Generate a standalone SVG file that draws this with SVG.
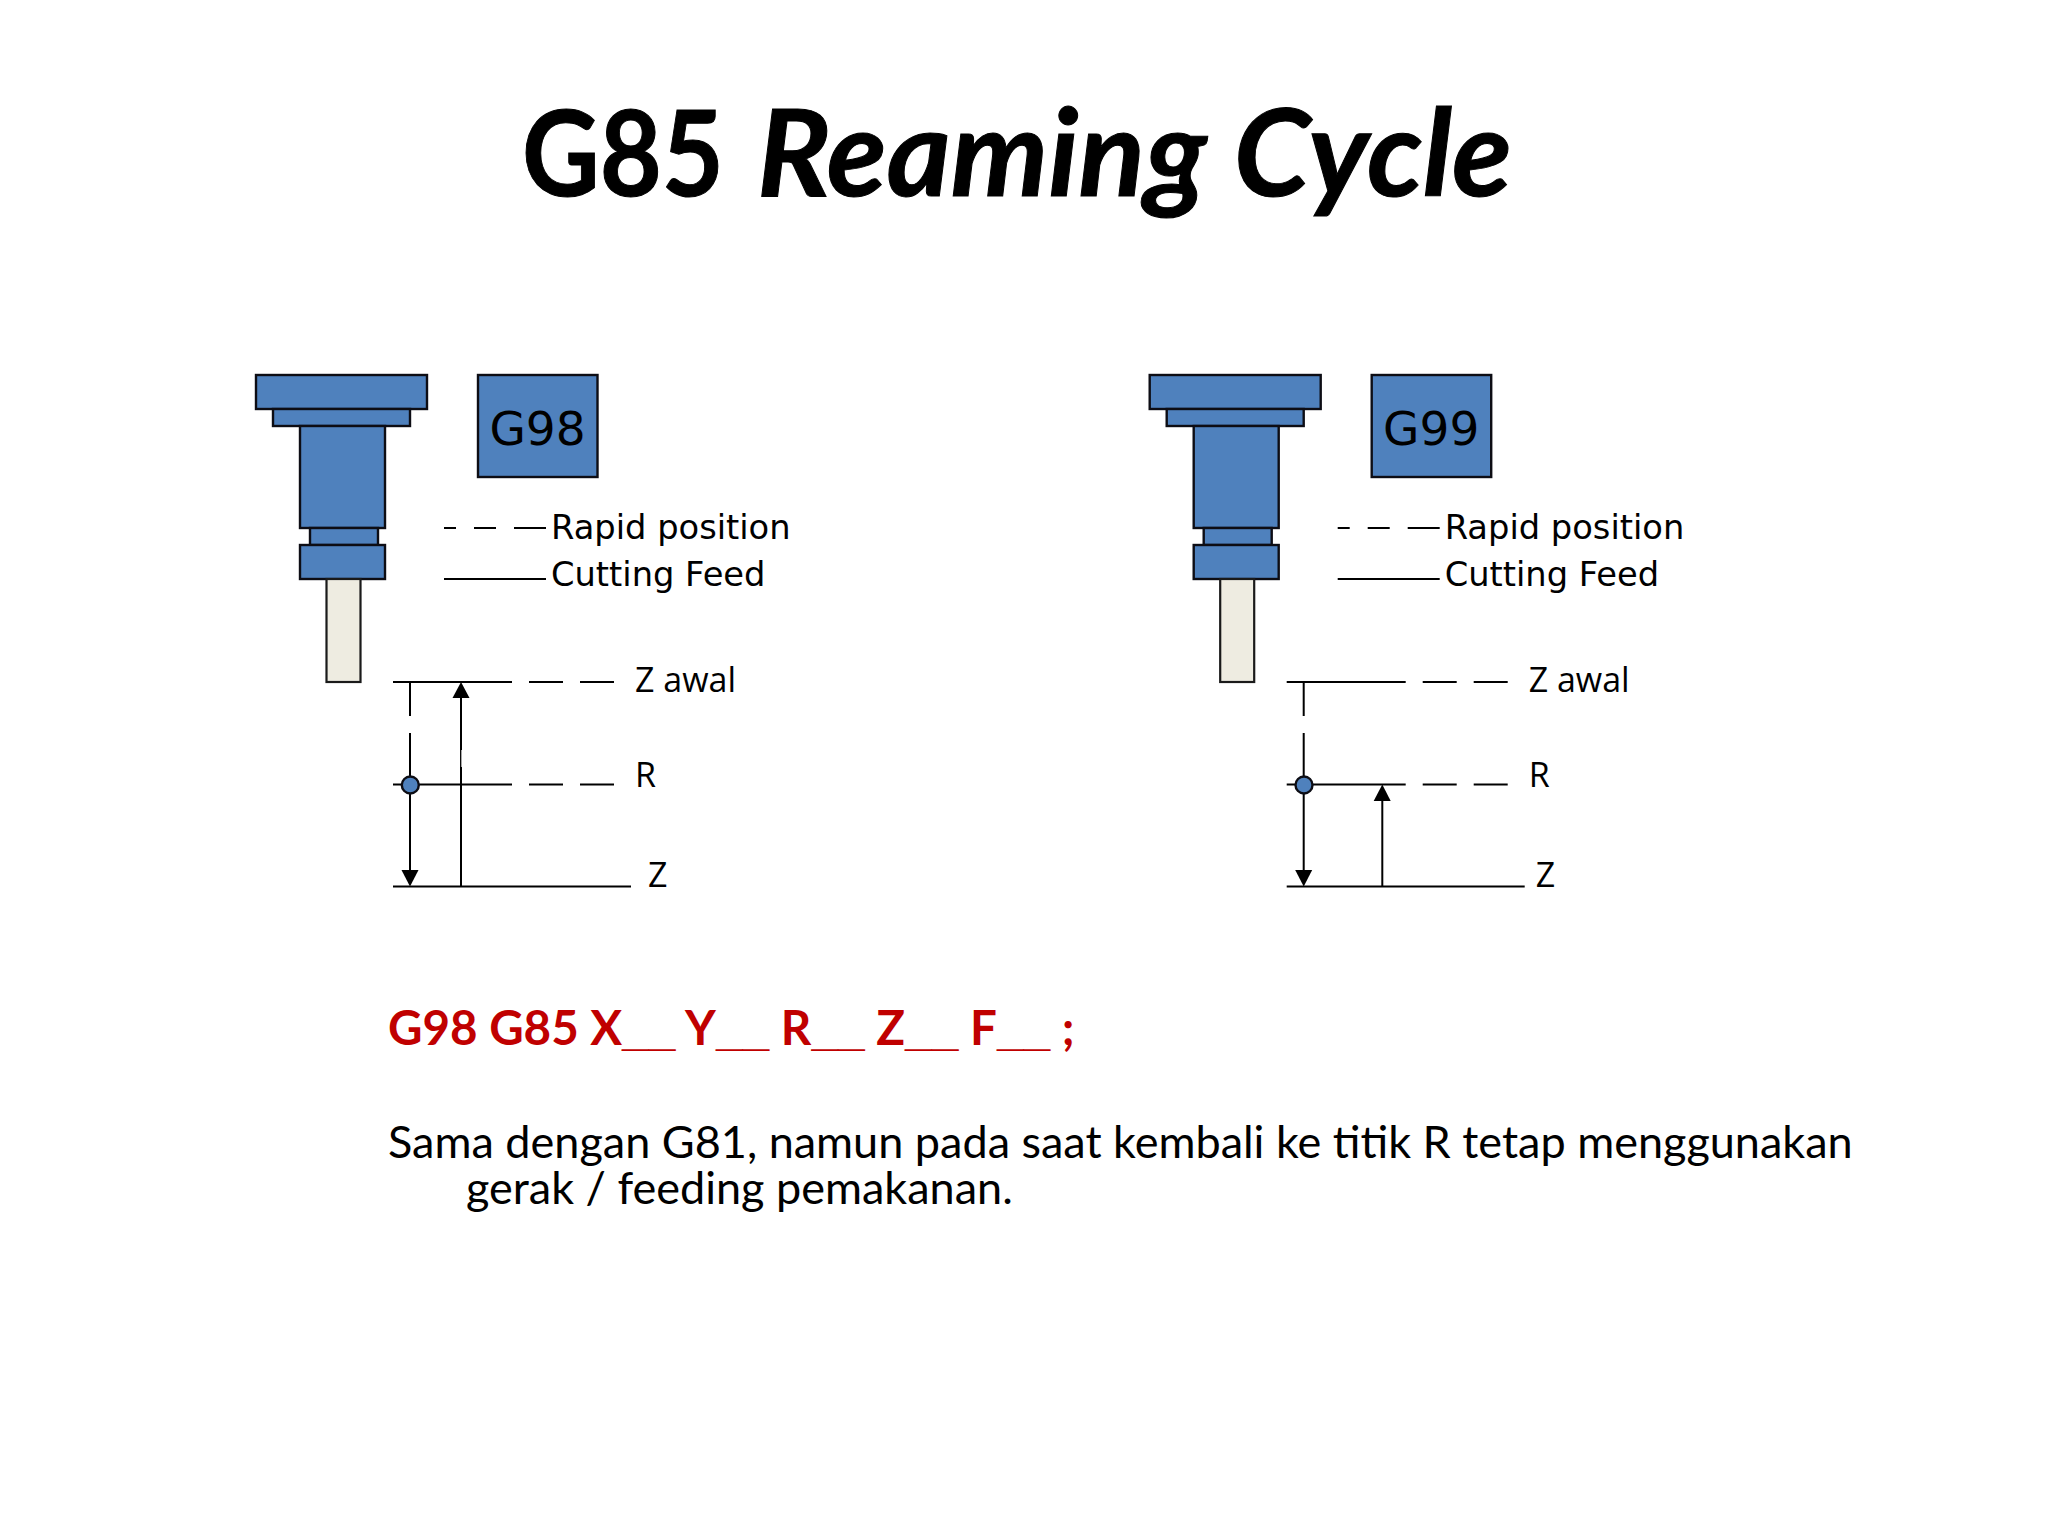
<svg xmlns="http://www.w3.org/2000/svg" xmlns:xlink="http://www.w3.org/1999/xlink" width="2048" height="1536" viewBox="0 0 2048 1536">
<style>
.b{fill:#4f81bd;stroke:#0d0d14;stroke-width:2.4}
.t{fill:#eeece1;stroke:#1a1a1a;stroke-width:2.2}
.l{stroke:#000;stroke-width:2;fill:none}
.h{fill:#000}
.d{font-family:"DejaVu Sans",sans-serif;fill:#000;font-size:33.7px}
.g{font-family:"DejaVu Sans",sans-serif;fill:#000;font-size:47px;text-anchor:middle}
.o{font-family:"Open Sans",sans-serif;fill:#000;font-size:34px}
.c{font-family:Lato,"Noto Sans",sans-serif;fill:#000}
.u{font-family:"Liberation Sans",sans-serif;font-size:48px}
.k{stroke:#000;stroke-width:1}
</style>
<defs>
<g id="tool">
<rect class="b" x="256" y="375" width="171" height="34"/>
<rect class="b" x="273" y="409" width="137" height="17"/>
<rect class="b" x="300" y="426" width="85" height="102"/>
<rect class="b" x="310" y="528" width="68" height="17"/>
<rect class="b" x="300" y="545" width="85" height="34"/>
<rect class="t" x="326.500" y="579" width="34" height="103"/>
</g>
<g id="legend">
<path class="l" d="M444 528H456M474 528H496M514 528H546M444 579H546"/>
</g>
<g id="levels">
<path class="l" d="M393 682H512M529 682H563M580 682H614M393 784.500H512M529 784.500H563M580 784.500H614M393 886.500H631"/>
<path class="l" d="M410 682V716M410 733V875"/>
<path class="h" d="M401.500 870H418.500L410 886.500Z"/>
</g>
</defs>
<g id="title">
<text class="c k" x="522" y="196" font-size="118" font-weight="700" textLength="202" lengthAdjust="spacingAndGlyphs">G85</text>
<text class="c k" x="757" y="196" font-size="120" font-weight="700" font-style="italic" textLength="755" lengthAdjust="spacingAndGlyphs">Reaming Cycle</text>
</g>
<g id="connectors-left">
<use xlink:href="#levels" href="#levels"/>
<path class="l" d="M461 694V750M461 767V886"/>
<path class="l" style="stroke-width:1.300" d="M460.700 750V767"/>
<path class="h" d="M452.500 698H469.500L461 682Z"/>
</g>
<g id="connectors-right" transform="translate(893.700 0)">
<use xlink:href="#levels" href="#levels"/>
<path class="l" d="M488.600 796V886"/>
<path class="h" d="M480 801H497L488.600 784.500Z"/>
</g>
<g id="node-g98">
<use xlink:href="#tool" href="#tool"/>
<rect class="b" x="478" y="375" width="119.500" height="102"/>
<text class="g" x="537.500" y="445">G98</text>
<use xlink:href="#legend" href="#legend"/>
<text class="d" x="551" y="539">Rapid position</text>
<text class="d" x="551" y="586">Cutting Feed</text>
<circle class="b" cx="410.300" cy="785" r="8.500"/>
<text class="o" x="635" y="692">Z awal</text>
<text class="o" x="635" y="787">R</text>
<text class="o" x="648" y="887">Z</text>
</g>
<g id="node-g99">
<g transform="translate(893.700 0)">
<use xlink:href="#tool" href="#tool"/>
<rect class="b" x="478" y="375" width="119.500" height="102"/>
<use xlink:href="#legend" href="#legend"/>
<circle class="b" cx="410.300" cy="785" r="8.500"/>
</g>
<text class="g" x="1431.200" y="445">G99</text>
<text class="d" x="1444.700" y="539">Rapid position</text>
<text class="d" x="1444.700" y="586">Cutting Feed</text>
<text class="o" x="1528.700" y="692">Z awal</text>
<text class="o" x="1528.700" y="787">R</text>
<text class="o" x="1535.700" y="887">Z</text>
</g>
<text class="c" x="388" y="1045" font-size="47.500" font-weight="700" style="fill:#c00000">G98 G85 X<tspan class="u">__</tspan> Y<tspan class="u">__</tspan> R<tspan class="u">__</tspan> Z<tspan class="u">__</tspan> F<tspan class="u">__</tspan> ;</text>
<text class="c" x="388" y="1158" font-size="45">Sama dengan G81, namun pada saat kembali ke titik R tetap menggunakan</text>
<text class="c" x="466" y="1204" font-size="45">gerak / feeding pemakanan.</text>
</svg>
